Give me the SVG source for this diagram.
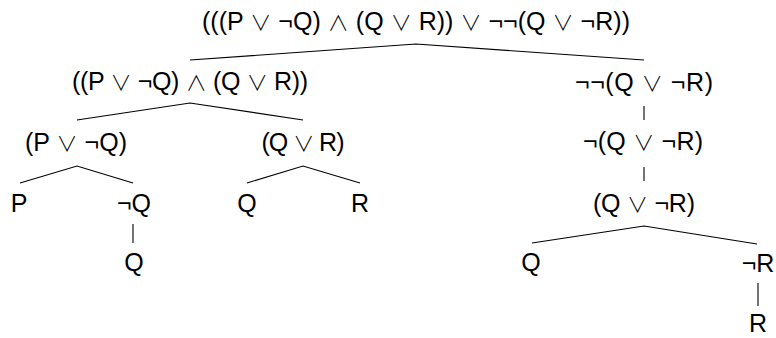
<svg xmlns="http://www.w3.org/2000/svg" width="776" height="338" viewBox="0 0 776 338">
<style>
text{font-family:"Liberation Sans","DejaVu Sans",sans-serif;font-size:25px;fill:#000;text-anchor:middle}
.o{font-family:"Noto Sans CJK JP","DejaVu Sans",sans-serif;font-weight:300;font-size:21px}
.e{stroke:#000;stroke-width:1.1;fill:none}
</style>
<rect width="776" height="338" fill="#fff"/>
<g id="connectors">
<polyline class="e" points="190,60 416,44 644,60"/>
<polyline class="e" points="77,120 190,103 303,120"/>
<polyline class="e" points="20,183 77,166 133,183"/>
<polyline class="e" points="247,183 303,166 360,183"/>
<line class="e" x1="644" y1="106" x2="644" y2="120"/>
<line class="e" x1="644" y1="167" x2="644" y2="181"/>
<line class="e" x1="133" y1="224" x2="133" y2="243"/>
<polyline class="e" points="532,243 644,226 757,244"/>
<line class="e" x1="758" y1="283" x2="758" y2="306"/>
</g>
<g id="n0"><text x="416" y="30" textLength="428" lengthAdjust="spacing">(((P <tspan class="o">∨</tspan> ¬Q) <tspan class="o">∧</tspan> (Q <tspan class="o">∨</tspan> R)) <tspan class="o">∨</tspan> ¬¬(Q <tspan class="o">∨</tspan> ¬R))</text></g>
<g id="n1"><text x="190" y="90" textLength="236" lengthAdjust="spacing">((P <tspan class="o">∨</tspan> ¬Q) <tspan class="o">∧</tspan> (Q <tspan class="o">∨</tspan> R))</text></g>
<g id="n2"><text x="644" y="91" textLength="138" lengthAdjust="spacing">¬¬(Q <tspan class="o">∨</tspan> ¬R)</text></g>
<g id="n3"><text x="76" y="151" textLength="102" lengthAdjust="spacing">(P <tspan class="o">∨</tspan> ¬Q)</text></g>
<g id="n4"><text x="303" y="151" textLength="83" lengthAdjust="spacing">(Q <tspan class="o">∨</tspan> R)</text></g>
<g id="n5"><text x="643" y="150" textLength="120" lengthAdjust="spacing">¬(Q <tspan class="o">∨</tspan> ¬R)</text></g>
<g id="n6"><text x="19" y="212">P</text></g>
<g id="n7"><text x="134" y="212">¬Q</text></g>
<g id="n8"><text x="247" y="212">Q</text></g>
<g id="n9"><text x="360" y="212">R</text></g>
<g id="n10"><text x="644" y="212" textLength="102" lengthAdjust="spacing">(Q <tspan class="o">∨</tspan> ¬R)</text></g>
<g id="n11"><text x="134" y="271">Q</text></g>
<g id="n12"><text x="531" y="271">Q</text></g>
<g id="n13"><text x="758" y="272">¬R</text></g>
<g id="n14"><text x="758" y="332">R</text></g>
</svg>
